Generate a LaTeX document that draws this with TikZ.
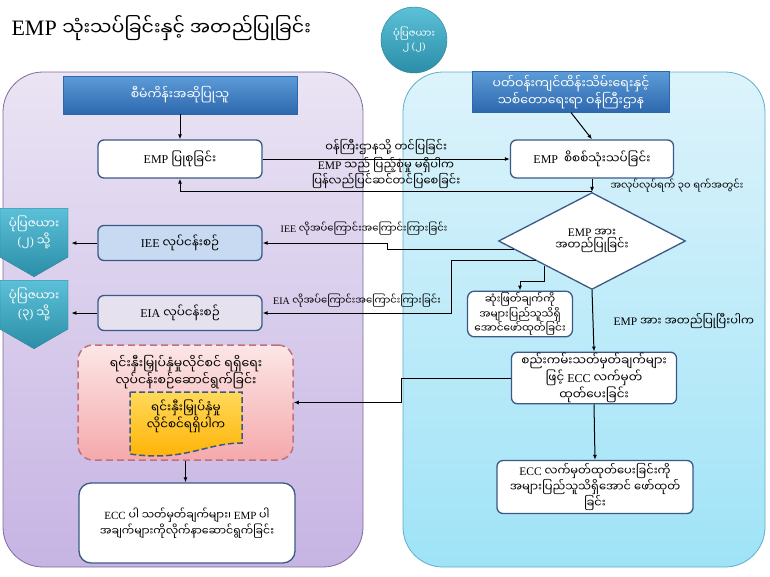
\documentclass[tikz,border=0pt]{standalone}
\usepackage{fontspec}
\usepackage{xcolor}
\setmainfont{Liberation Serif}
\newfontfamily\myfont[Script=Myanmar]{Noto Sans Myanmar UI}
\newcommand{\mm}[1]{{\myfont #1}}
\usetikzlibrary{shapes,arrows,positioning,calc,arrows.meta}

\definecolor{lavtop}{HTML}{EAE4F4}
\definecolor{lavbot}{HTML}{C6B4E3}
\definecolor{lavline}{HTML}{7D6B9C}
\definecolor{skytop}{HTML}{DDF3FB}
\definecolor{skybot}{HTML}{9FE3F7}
\definecolor{skyline}{HTML}{5BAFC8}
\definecolor{headtop}{HTML}{5C9BD8}
\definecolor{headbot}{HTML}{2D68AE}
\definecolor{boxline}{HTML}{3A5A85}
\definecolor{tealtop}{HTML}{5BC0D8}
\definecolor{tealbot}{HTML}{2B8EA8}
\definecolor{tealline}{HTML}{2A7D93}
\definecolor{ieefill}{HTML}{C7DAF1}
\definecolor{eiafill}{HTML}{E6E1EE}
\definecolor{pinktop}{HTML}{FCE6E6}
\definecolor{pinkbot}{HTML}{F5A9AB}
\definecolor{pinkline}{HTML}{C0707E}
\definecolor{goldtop}{HTML}{FFD95A}
\definecolor{goldbot}{HTML}{FFB000}

\begin{document}
\begin{tikzpicture}[x=1pt,y=-1pt,
    box/.style={draw=boxline, line width=1.3pt, rounded corners=6pt, fill=white, align=center, inner sep=1pt, font=\fontsize{12}{13.5}\selectfont},
    head/.style={draw=headbot, top color=headtop, bottom color=headbot, text=white, align=center, font=\fontsize{12.5}{14.5}\selectfont},
    flag/.style={signal, signal to=south, signal pointer angle=120, draw=tealline, top color=tealtop, bottom color=tealbot, text=white, align=center, minimum width=68pt, minimum height=64pt, inner sep=1pt, font=\fontsize{12}{14}\selectfont},
    link/.style={-{Latex[length=5pt,width=4pt]}, line width=1pt},
    lbl/.style={align=center, inner sep=0pt, font=\fontsize{10}{11}\selectfont},
    biglbl/.style={lbl, font=\fontsize{11.5}{11.5}\selectfont}
]
    \useasboundingbox (0,0) rectangle (770,576);

    % Two lanes
    \draw[lavline, line width=0.8pt, top color=lavtop, bottom color=lavbot, rounded corners=40pt] (3,72) rectangle (363,567);
    \draw[skyline, line width=0.8pt, top color=skytop, bottom color=skybot, rounded corners=40pt] (403,72) rectangle (765,567);

    % Title and chart badge
    \node[anchor=west] (ttl) at (8,28) {\fontsize{22}{24}\selectfont EMP \fontsize{19}{24}\selectfont\mm{သုံးသပ်ခြင်းနှင့် အတည်ပြုခြင်း}};
    \node[circle, draw=tealline, top color=tealtop, bottom color=tealbot, minimum size=66pt, inner sep=0pt, align=center, text=white, font=\fontsize{10}{12}\selectfont] (chart) at (414,40) {\mm{ပုံပြဇယား}\\\mm{၂} (\mm{၂})};

    % Lane headers
    \node[head, minimum width=234pt, minimum height=38pt] (owner) at (180,95) {\mm{စီမံကိန်းအဆိုပြုသူ}};
    \node[head, minimum width=197pt, minimum height=36pt] (ministry) at (571,92) {\mm{ပတ်ဝန်းကျင်ထိန်းသိမ်းရေးနှင့်}\\\mm{သစ်တောရေးရာ ဝန်ကြီးဌာန}};

    % Proponent side
    \node[box, minimum width=164pt, minimum height=38pt] (draft) at (180,159) {EMP \mm{ပြုစုခြင်း}};
    \node[box, fill=ieefill, minimum width=164pt, minimum height=35pt] (iee) at (180,243) {IEE \mm{လုပ်ငန်းစဉ်}};
    \node[box, fill=eiafill, minimum width=164pt, minimum height=35pt] (eia) at (180,313) {EIA \mm{လုပ်ငန်းစဉ်}};
    \node[flag, anchor=north] (tochart2) at (34,208) {\mm{ပုံပြဇယား}\\(\mm{၂}) \mm{သို့}};
    \node[flag, anchor=north] (tochart3) at (34,280) {\mm{ပုံပြဇယား}\\(\mm{၃}) \mm{သို့}};

    % Investment licence step
    \node[draw=pinkline, dash pattern=on 7pt off 4pt, line width=1.5pt, rounded corners=15pt, top color=pinktop, bottom color=pinkbot, minimum width=215pt, minimum height=115pt] (licence) at (185.5,402.5) {};
    \node[lbl, font=\fontsize{12.5}{14}\selectfont] (licencetxt) at (186,372) {\mm{ရင်းနှီးမြှုပ်နှံမှုလိုင်စင် ရရှိရေး}\\\mm{လုပ်ငန်းစဉ်ဆောင်ရွက်ခြင်း}};
    \draw[boxline, dash pattern=on 6pt off 3pt, line width=1.5pt, top color=goldtop, bottom color=goldbot] (130,392) -- (242,392) -- (242,443) .. controls (205,443) and (185,462) .. (130,454) -- cycle;
    \node[lbl, font=\fontsize{12}{14}\selectfont] (gotlicence) at (186,416) {\mm{ရင်းနှီးမြှုပ်နှံမှု}\\\mm{လိုင်စင်ရရှိပါက}};
    \node[box, rounded corners=12pt, minimum width=216pt, minimum height=80pt, font=\fontsize{11}{13.5}\selectfont] (comply) at (187,523) {ECC \mm{ပါ သတ်မှတ်ချက်များ၊} EMP \mm{ပါ}\\\mm{အချက်များကိုလိုက်နာဆောင်ရွက်ခြင်း}};

    % Ministry side
    \node[box, minimum width=163pt, minimum height=38pt] (review) at (592,159) {EMP\ \ \mm{စိစစ်သုံးသပ်ခြင်း}};
    \node[diamond, draw=boxline, line width=1.3pt, fill=white, minimum width=187pt, minimum height=72pt, inner sep=0pt, align=center, font=\fontsize{11.5}{13}\selectfont] (approve) at (592,241) {EMP \mm{အား}\\\mm{အတည်ပြုခြင်း}};
    \node[box, rounded corners=7pt, minimum width=105pt, minimum height=42pt, font=\fontsize{10.5}{12.5}\selectfont] (publish) at (520,314) {\mm{ဆုံးဖြတ်ချက်ကို}\\\mm{အများပြည်သူသိရှိ}\\\mm{အောင်ဖော်ထုတ်ခြင်း}};
    \node[box, minimum width=165pt, minimum height=51pt] (issue) at (594,378) {\mm{စည်းကမ်းသတ်မှတ်ချက်များ}\\\mm{ဖြင့်} ECC \mm{လက်မှတ်}\\\mm{ထုတ်ပေးခြင်း}};
    \node[box, minimum width=196pt, minimum height=53pt, font=\fontsize{11.5}{13.5}\selectfont] (announce) at (595,487) {ECC \mm{လက်မှတ်ထုတ်ပေးခြင်းကို}\\\mm{အများပြည်သူသိရှိအောင် ဖော်ထုတ်}\\\mm{ခြင်း}};

    % Flow
    \draw[link] (owner.south) -- (draft.north);
    \draw[link] (ministry.south) -- (review.north);
    \draw[link] (draft.east) -- node[biglbl, above=4pt] {\mm{ဝန်ကြီးဌာနသို့ တင်ပြခြင်း}} (review.west);
    \draw[link] (review.south) -- node[lbl, right=18pt] {\mm{အလုပ်လုပ်ရက် ၃၀ ရက်အတွင်း}} (approve.north);
    \draw[link] (approve.north) -| node[biglbl, pos=0.25, above=3pt] {EMP \mm{သည် ပြည့်စုံမှု မရှိပါက}\\\mm{ပြန်လည်ပြင်ဆင်တင်ပြစေခြင်း}} (draft.south);
    \draw[link] ($(approve.west)!0.17!(approve.south)$) -- ++(-126,0) |- (iee.east);
    \node[lbl] (ieetxt) at (364,229) {IEE \mm{လိုအပ်ကြောင်းအကြောင်းကြားခြင်း}};
    \draw[link] ($(approve.west)!0.4!(approve.south)$) -- ++(-84,0) |- node[lbl, pos=0.75, above=5pt] {EIA \mm{လိုအပ်ကြောင်းအကြောင်းကြားခြင်း}} (eia.east);
    \draw[link] ($(approve.west)!0.5!(approve.south)$) -- ++(0,16) -| (publish.north);
    \draw[link] (approve.south) -- node[biglbl, right=20pt] {EMP \mm{အား အတည်ပြုပြီးပါက}} (issue.north);
    \draw[link] (issue.west) -- ++(-109,0) |- (licence.east);
    \draw[link] (issue.south) -- (announce.north);
    \draw[link] (licence.south) -- (licence.south |- comply.north);
    \draw[link] (iee.west) -- ++(-26,0);
    \draw[link] (eia.west) -- ++(-26,0);
\end{tikzpicture}
\end{document}
